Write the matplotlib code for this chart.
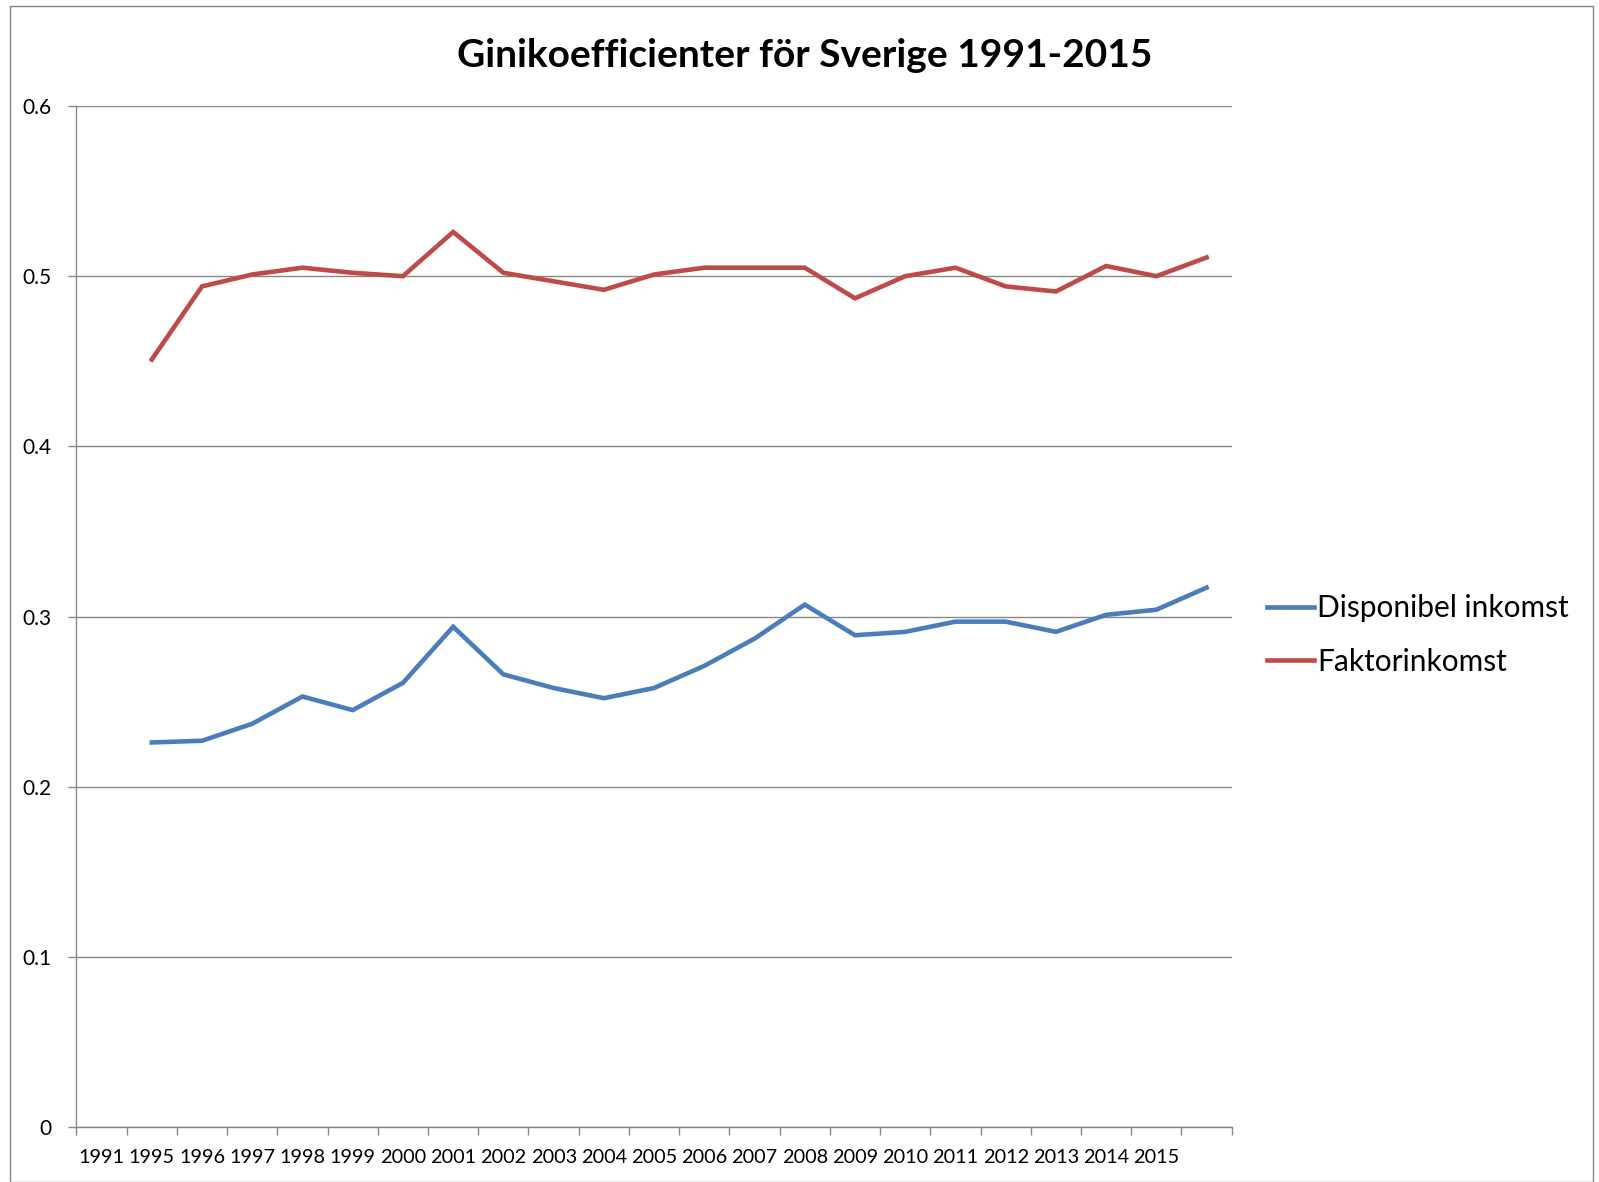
import numpy as np
import matplotlib
matplotlib.use("Agg")
import matplotlib.pyplot as plt
from matplotlib.patches import Rectangle

plt.rcParams["font.family"] = ["Lato", "DejaVu Sans"]

# Category labels as they appear on the x axis (the last slot has no label)
year_labels = ["1991", "1995", "1996", "1997", "1998", "1999", "2000", "2001",
               "2002", "2003", "2004", "2005", "2006", "2007", "2008", "2009",
               "2010", "2011", "2012", "2013", "2014", "2015", ""]

# Series values per category (first category is empty in the source chart)
disponibel = [np.nan, 0.226, 0.227, 0.237, 0.253, 0.245, 0.261, 0.294, 0.266,
              0.258, 0.252, 0.258, 0.271, 0.287, 0.307, 0.289, 0.291, 0.297,
              0.297, 0.291, 0.301, 0.304, 0.317]
faktor = [np.nan, 0.451, 0.494, 0.501, 0.505, 0.502, 0.500, 0.526, 0.502,
          0.497, 0.492, 0.501, 0.505, 0.505, 0.505, 0.487, 0.500, 0.505,
          0.494, 0.491, 0.506, 0.500, 0.511]

series_names = ["Disponibel inkomst", "Faktorinkomst"]
series_colors = ["#4A7EBB", "#BE4B48"]

fig = plt.figure(figsize=(15.99, 11.82), dpi=100)
ax = fig.add_axes([0.0478, 0.0465, 0.7225, 0.8638])

x = np.arange(1, len(year_labels) + 1)
for vals, name, col in zip([disponibel, faktor], series_names, series_colors):
    ax.plot(x, vals, color=col, linewidth=3.3, label=name,
            solid_joinstyle="miter")

# Axes setup (Excel look)
ax.set_xlim(0.5, len(year_labels) + 0.5)
ax.set_ylim(0, 0.6)
ax.set_yticks(np.arange(0, 0.61, 0.1))
ax.set_yticklabels(["0", "0.1", "0.2", "0.3", "0.4", "0.5", "0.6"])
ax.yaxis.grid(True, color="#888888", linewidth=1.0)
ax.set_axisbelow(True)

ax.set_xticks(np.arange(0.5, len(year_labels) + 1, 1.0))
ax.set_xticklabels([])
ax.set_xticks(x, minor=True)
ax.set_xticklabels(year_labels, minor=True)
ax.tick_params(axis="x", which="major", length=6, width=1, color="#888888")
ax.tick_params(axis="x", which="minor", length=0, pad=16, labelsize=14.3)
ax.tick_params(axis="y", which="major", length=6, width=1, color="#888888",
               labelsize=15, pad=12)

for side in ["top", "right"]:
    ax.spines[side].set_visible(False)
for side in ["left", "bottom"]:
    ax.spines[side].set_color("#888888")
    ax.spines[side].set_linewidth(1.0)

fig.text(0.503, 0.953, "Ginikoefficienter för Sverige 1991-2015",
         ha="center", va="center", fontsize=28, fontweight="bold")

ax.legend(loc="center left", bbox_to_anchor=(1.007, 0.482), frameon=False,
          fontsize=21.5, handlelength=1.6, handletextpad=0.1,
          labelspacing=0.85)

# Outer chart border
fig.add_artist(Rectangle((0.006, 0.0), 0.99, 0.995, transform=fig.transFigure,
                         fill=False, edgecolor="#888888", linewidth=1.0))

fig.savefig("out.png", dpi=100)
